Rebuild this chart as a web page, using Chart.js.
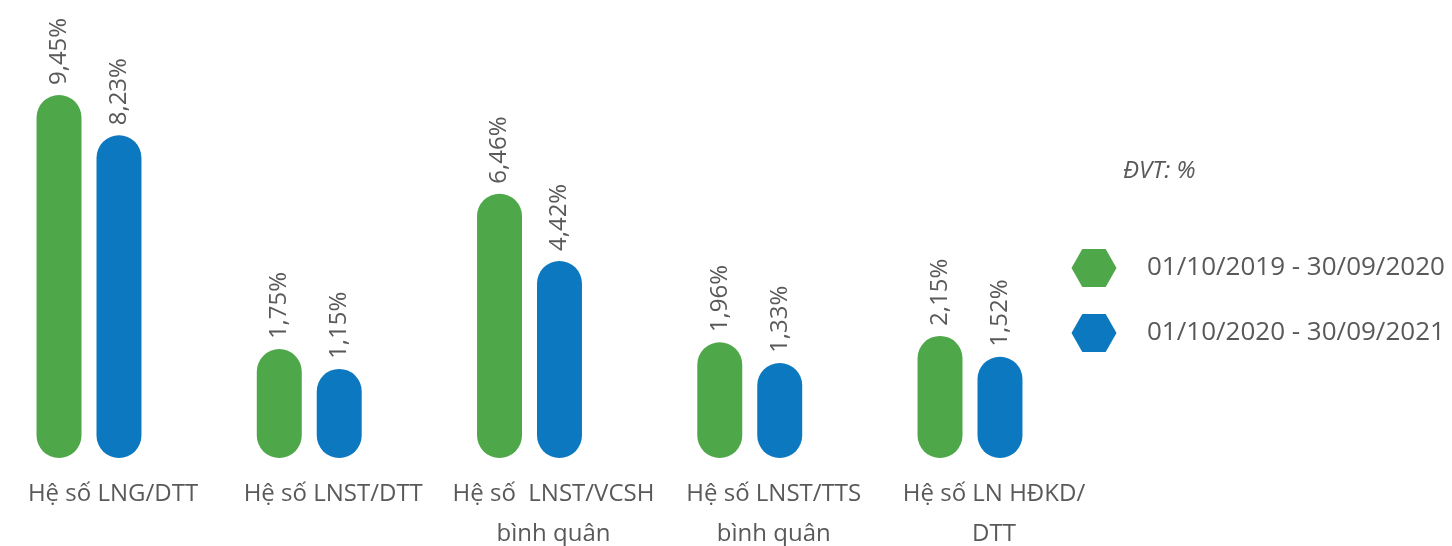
<!DOCTYPE html>
<html lang="vi">
<head>
<meta charset="utf-8">
<title>Hệ số sinh lời</title>
<script src="https://cdn.jsdelivr.net/npm/chart.js@4.4.1/dist/chart.umd.min.js"></script>
<style>
  html, body { margin: 0; padding: 0; background: #ffffff; }
  #wrap { width: 1452px; height: 546px; }
</style>
</head>
<body>
<div id="wrap"><canvas id="chart" width="1452" height="546"></canvas></div>
<script>
// ---- data ----
const categories = [
  ['Hệ số LNG/DTT'],
  ['Hệ số LNST/DTT'],
  ['Hệ số  LNST/VCSH', 'bình quân'],
  ['Hệ số LNST/TTS', 'bình quân'],
  ['Hệ số LN HĐKD/', 'DTT']
];
const seriesNames = ['01/10/2019 - 30/09/2020', '01/10/2020 - 30/09/2021'];
const values2020 = [9.45, 1.75, 6.46, 1.96, 2.15];
const values2021 = [8.23, 1.15, 4.42, 1.33, 1.52];
const unitNote = 'ĐVT: %';

// ---- styling ----
const GREEN = '#4ea84a';
const BLUE = '#0c78bf';
const TEXT = '#595959';
const FONT = "'Open Sans', 'Noto Sans', sans-serif";
const AXIS_FLOOR = -1.55;   // pills grow from a floor slightly below zero

function formatPct(v) {
  return v.toFixed(2).replace('.', ',') + '%';
}

// rotated value text above each pill
const valueLabels = {
  id: 'valueLabels',
  afterDatasetsDraw(chart, args, opts) {
    const ctx = chart.ctx;
    ctx.save();
    ctx.fillStyle = TEXT;
    ctx.font = `${opts.size}px ${FONT}`;
    ctx.textAlign = 'left';
    ctx.textBaseline = 'middle';
    chart.data.datasets.forEach((ds, di) => {
      chart.getDatasetMeta(di).data.forEach((bar, i) => {
        ctx.save();
        ctx.translate(bar.x, bar.y - opts.gap);
        ctx.rotate(-Math.PI / 2);
        ctx.fillText(formatPct(ds.data[i]), 0, 0);
        ctx.restore();
      });
    });
    ctx.restore();
  }
};

function hexagon(ctx, cx, cy, w, h) {
  const hw = w / 2, hh = h / 2, e = w * 0.26;
  ctx.beginPath();
  ctx.moveTo(cx - hw, cy);
  ctx.lineTo(cx - e, cy - hh);
  ctx.lineTo(cx + e, cy - hh);
  ctx.lineTo(cx + hw, cy);
  ctx.lineTo(cx + e, cy + hh);
  ctx.lineTo(cx - e, cy + hh);
  ctx.closePath();
  ctx.fill();
}

// unit note and series key on the right
const sideLegend = {
  id: 'sideLegend',
  afterDraw(chart, args, opts) {
    const ctx = chart.ctx;
    ctx.save();
    ctx.textAlign = 'left';
    ctx.textBaseline = 'middle';
    ctx.fillStyle = TEXT;
    ctx.font = `italic ${opts.noteSize}px ${FONT}`;
    ctx.fillText(unitNote, opts.noteX, opts.noteY);
    ctx.font = `${opts.size}px ${FONT}`;
    chart.data.datasets.forEach((ds, i) => {
      const y = opts.top + i * opts.step;
      ctx.fillStyle = ds.backgroundColor;
      hexagon(ctx, opts.markerX, y, opts.markerW, opts.markerH);
      ctx.fillStyle = TEXT;
      ctx.fillText(ds.label, opts.textX, y);
    });
    ctx.restore();
  }
};

const pill = {
  base: AXIS_FLOOR,
  borderRadius: 40,
  borderSkipped: false,
  categoryPercentage: 0.5445,
  barPercentage: 0.75,
  clip: false
};

new Chart(document.getElementById('chart'), {
  type: 'bar',
  data: {
    labels: categories,
    datasets: [
      Object.assign({ label: seriesNames[0], data: values2020, backgroundColor: GREEN }, pill),
      Object.assign({ label: seriesNames[1], data: values2021, backgroundColor: BLUE }, pill)
    ]
  },
  options: {
    responsive: false,
    animation: false,
    devicePixelRatio: 1,
    layout: { padding: { left: 89, right: 482, top: 0, bottom: 0 } },
    scales: {
      x: {
        offset: false,
        grid: { display: false, drawTicks: false },
        border: { display: false },
        ticks: {
          autoSkip: false,
          maxRotation: 0,
          minRotation: 0,
          padding: 16,
          labelOffset: 24,
          color: TEXT,
          font: { family: FONT, size: 24, lineHeight: '40px' }
        },
        afterFit(scale) {
          // fixed axis band; side margins come from the layout padding
          scale.height = 88;
          scale.paddingLeft = 0;
          scale.paddingRight = 0;
        }
      },
      y: { display: false, min: AXIS_FLOOR, max: 12.33 }
    },
    plugins: {
      legend: { display: false },
      tooltip: { enabled: false },
      valueLabels: { size: 24, gap: 10 },
      sideLegend: {
        noteX: 1123, noteY: 171, noteSize: 24,
        markerX: 1094, markerW: 45, markerH: 38,
        textX: 1147, top: 268, step: 65, size: 26
      }
    }
  },
  plugins: [valueLabels, sideLegend]
});
</script>
</body>
</html>
